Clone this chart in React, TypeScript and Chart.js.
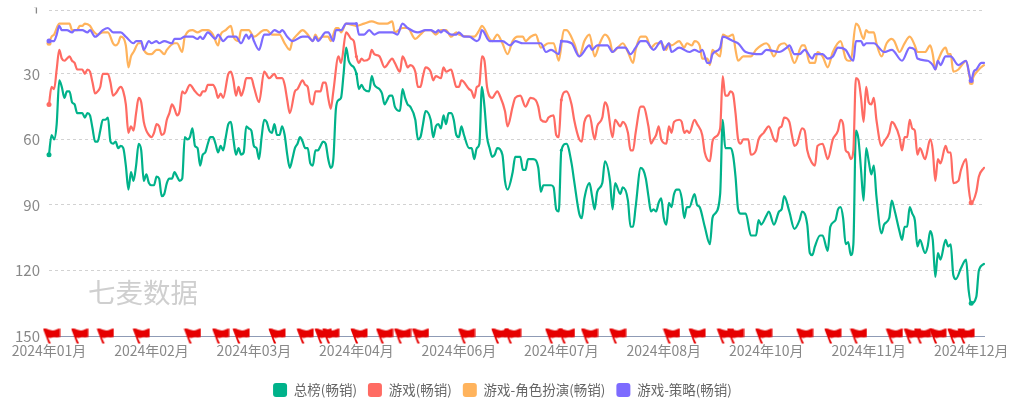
import React, { useEffect, useRef } from "react";
import { Chart, registerables } from "chart.js";

Chart.register(...registerables);

// Each pair is [day of 2024 counted from 1 January, rank]
const totalRank = [[0,67],[1,58],[2,60],[3,53],[4,33],[5,36],[6,41],[7,38],[8,38],[9,43],[10,44],[11,48],[12,48],[13,48],[14,50],[15,48],[16,49],[17,55],[18,61],[19,61],[20,56],[21,51],[22,51],[23,50],[24,61],[25,62],[26,61],[27,64],[28,63],[29,64],[30,72],[31,83],[32,75],[33,79],[34,72],[35,62],[36,65],[37,79],[38,76],[39,80],[40,81],[41,81],[42,77],[43,78],[44,86],[45,85],[46,80],[47,78],[48,78],[49,75],[50,77],[51,79],[52,78],[53,59],[54,60],[55,59],[56,55],[57,63],[58,64],[59,72],[60,67],[61,66],[62,62],[63,59],[64,59],[65,62],[66,66],[67,63],[68,65],[69,59],[70,53],[71,52],[72,60],[73,67],[74,64],[75,67],[76,66],[77,54],[78,55],[79,56],[80,63],[81,64],[82,69],[83,59],[84,51],[85,52],[86,56],[87,57],[88,53],[89,58],[90,58],[91,54],[92,58],[93,67],[94,73],[95,69],[96,64],[97,62],[98,59],[99,61],[100,64],[101,64],[102,71],[103,72],[104,65],[105,65],[106,63],[107,61],[108,62],[109,69],[110,73],[111,69],[112,46],[113,42],[114,41],[115,30],[116,18],[117,24],[118,26],[119,27],[120,30],[121,37],[122,35],[123,37],[125,38],[126,31],[127,35],[129,37],[130,39],[131,44],[132,42],[133,40],[134,40],[135,45],[137,47],[138,37],[139,41],[140,44],[141,45],[143,51],[144,60],[145,59],[146,53],[147,47],[149,51],[150,59],[151,54],[152,53],[153,55],[154,49],[155,53],[156,48],[157,48],[158,51],[159,58],[160,59],[161,54],[162,58],[164,64],[165,64],[166,69],[167,64],[168,62],[169,36],[170,45],[171,59],[172,64],[173,68],[174,67],[175,64],[177,67],[178,79],[179,83],[181,75],[182,68],[184,68],[185,74],[186,74],[187,69],[189,69],[191,73],[192,84],[193,81],[196,81],[197,82],[198,92],[199,93],[200,65],[202,62],[204,71],[205,79],[207,94],[208,96],[209,87],[211,80],[212,86],[213,92],[214,84],[216,80],[217,70],[219,79],[220,92],[221,80],[223,85],[224,82],[226,88],[227,100],[228,100],[229,91],[231,73],[232,74],[233,78],[234,86],[235,93],[236,92],[237,93],[238,89],[239,87],[240,96],[241,99],[242,89],[243,91],[244,85],[245,83],[246,83],[247,87],[248,96],[249,91],[250,91],[252,85],[253,90],[254,91],[256,100],[258,108],[259,96],[260,94],[262,85],[263,51],[264,64],[266,64],[267,67],[268,77],[269,92],[270,94],[272,94],[274,104],[276,104],[277,97],[278,99],[280,95],[281,93],[283,99],[285,93],[286,92],[287,86],[289,93],[291,101],[293,97],[294,93],[296,99],[297,112],[298,113],[299,109],[301,104],[302,104],[304,111],[305,100],[307,97],[308,92],[309,91],[310,96],[311,108],[312,107],[313,113],[314,108],[315,56],[316,60],[317,74],[318,88],[319,64],[320,70],[321,76],[322,72],[323,86],[325,103],[326,99],[328,96],[329,88],[330,92],[332,102],[333,106],[334,100],[335,100],[336,91],[337,94],[338,97],[339,109],[340,106],[342,112],[343,109],[344,102],[345,106],[346,123],[347,112],[348,115],[350,106],[351,109],[352,108],[353,122],[354,124],[356,119],[358,115],[359,129],[360,135],[362,132],[363,120],[365,117]];

const gameRank = [[0,44],[1,36],[2,37],[3,28],[4,19],[5,23],[6,24],[7,23],[8,22],[9,24],[10,25],[11,28],[12,28],[13,28],[14,30],[15,28],[16,29],[17,34],[18,39],[19,38],[20,36],[21,30],[23,30],[24,34],[25,40],[26,39],[28,36],[29,38],[30,44],[31,57],[32,54],[33,56],[34,48],[35,41],[36,43],[37,52],[38,56],[39,58],[40,59],[41,57],[42,53],[43,54],[44,58],[45,57],[46,51],[47,48],[48,44],[49,46],[50,49],[51,47],[52,38],[53,39],[55,35],[57,38],[59,40],[60,38],[61,38],[62,35],[64,35],[65,37],[66,41],[67,39],[68,41],[70,30],[71,29],[72,33],[73,40],[74,36],[75,40],[76,37],[77,32],[79,32],[80,36],[82,43],[84,29],[86,32],[88,30],[89,32],[91,32],[92,35],[93,42],[94,48],[96,38],[97,37],[99,33],[100,35],[101,36],[102,43],[103,44],[104,38],[106,38],[107,34],[108,34],[109,41],[110,46],[111,38],[113,22],[114,25],[116,11],[118,14],[119,15],[120,22],[121,25],[122,23],[123,24],[125,23],[126,19],[127,21],[129,22],[131,27],[134,23],[135,25],[137,29],[138,22],[139,24],[140,27],[141,26],[143,29],[144,36],[145,36],[146,31],[147,27],[149,29],[150,33],[151,31],[153,32],[154,27],[155,29],[157,28],[158,32],[159,36],[160,36],[161,33],[164,37],[165,38],[166,41],[167,36],[168,35],[169,22],[170,24],[171,36],[173,41],[175,38],[176,40],[178,47],[179,54],[181,45],[182,41],[184,40],[186,45],[188,41],[190,42],[191,45],[192,51],[194,52],[195,50],[197,49],[198,58],[199,59],[200,42],[202,38],[204,44],[205,51],[207,60],[208,61],[209,52],[211,49],[213,60],[214,54],[216,50],[217,43],[218,45],[220,59],[221,51],[223,54],[224,52],[226,57],[227,65],[228,65],[229,57],[231,45],[232,45],[234,54],[235,62],[236,60],[237,58],[238,54],[239,60],[241,62],[242,54],[243,57],[244,52],[246,51],[247,52],[248,57],[249,56],[250,57],[252,51],[253,53],[255,58],[256,66],[258,70],[259,61],[260,59],[262,55],[263,31],[264,40],[265,40],[266,38],[267,39],[268,48],[269,60],[270,62],[271,60],[273,60],[274,67],[276,65],[277,60],[279,57],[281,54],[283,60],[284,61],[285,55],[286,54],[287,50],[289,52],[290,58],[291,63],[292,62],[294,55],[295,56],[296,65],[298,71],[299,72],[300,63],[302,62],[304,69],[306,60],[308,56],[309,51],[310,53],[311,65],[312,66],[313,69],[314,65],[315,32],[316,33],[317,41],[318,52],[319,36],[320,43],[321,44],[322,41],[323,51],[325,63],[326,61],[328,57],[329,52],[330,53],[332,59],[333,65],[334,59],[335,59],[336,51],[337,55],[338,56],[339,67],[340,64],[342,69],[344,60],[345,65],[346,79],[347,69],[348,71],[350,63],[351,66],[352,66],[353,80],[355,79],[356,74],[358,69],[359,82],[360,89],[362,84],[363,77],[365,73]];

const rolePlayRank = [[0,16],[1,13],[2,12],[4,7],[5,7],[6,7],[8,7],[9,10],[11,10],[12,8],[13,8],[14,7],[16,8],[17,10],[19,12],[21,11],[23,11],[25,16],[26,17],[27,16],[28,13],[30,17],[31,27],[32,22],[33,20],[35,16],[36,16],[37,19],[39,21],[40,21],[42,19],[43,19],[45,21],[46,19],[49,16],[50,16],[52,20],[53,13],[56,10],[58,11],[60,10],[62,10],[64,12],[66,17],[67,12],[69,10],[71,8],[72,13],[74,15],[75,10],[78,10],[80,13],[84,10],[85,10],[87,12],[90,12],[92,16],[94,19],[95,15],[97,12],[99,10],[101,12],[103,15],[104,12],[105,14],[107,13],[109,13],[110,15],[112,9],[113,9],[114,11],[116,7],[120,8],[123,7],[126,6],[129,7],[132,7],[134,6],[135,11],[138,9],[140,9],[143,14],[145,12],[147,10],[149,10],[151,12],[153,10],[155,10],[157,13],[159,11],[160,12],[164,13],[166,13],[168,10],[169,8],[172,14],[173,15],[175,12],[177,16],[179,21],[181,15],[183,13],[185,13],[186,15],[188,13],[190,12],[192,18],[195,16],[197,16],[199,24],[201,10],[202,10],[205,16],[207,22],[209,15],[211,12],[213,22],[215,16],[217,12],[219,15],[220,20],[222,18],[224,16],[226,20],[228,25],[229,19],[231,13],[233,13],[235,18],[237,16],[239,16],[241,19],[242,16],[243,17],[246,15],[248,18],[249,16],[251,17],[252,15],[254,17],[255,23],[257,23],[258,26],[259,19],[260,20],[262,22],[263,12],[265,13],[267,12],[268,19],[269,24],[271,22],[274,22],[276,19],[278,17],[280,16],[281,17],[283,22],[285,17],[287,16],[289,19],[291,25],[294,17],[295,17],[297,25],[299,25],[300,20],[302,22],[304,27],[306,20],[309,15],[311,23],[312,24],[313,24],[315,7],[316,8],[318,14],[319,10],[320,11],[322,11],[323,16],[325,22],[327,16],[329,14],[330,15],[332,20],[334,16],[336,13],[338,17],[339,20],[342,20],[344,17],[345,21],[346,28],[347,24],[350,18],[351,21],[352,21],[353,29],[355,28],[357,25],[358,24],[360,34],[361,31],[363,28],[365,26]];

const strategyRank = [[0,15],[2,15],[3,12],[4,8],[5,10],[6,10],[7,10],[9,11],[10,10],[13,10],[15,11],[16,10],[18,13],[21,10],[23,9],[25,11],[28,11],[30,13],[33,16],[34,15],[36,15],[37,19],[39,15],[40,16],[42,15],[43,16],[45,15],[48,16],[49,14],[51,14],[53,13],[56,13],[58,14],[59,13],[60,14],[62,11],[65,14],[66,12],[68,15],[70,13],[73,13],[75,16],[77,12],[78,14],[79,12],[80,15],[82,19],[84,12],[86,12],[88,10],[90,11],[91,10],[93,13],[95,15],[99,13],[101,13],[103,15],[104,13],[105,15],[108,11],[109,11],[111,15],[112,10],[113,10],[114,10],[116,7],[118,7],[120,7],[121,12],[123,12],[125,10],[127,12],[129,11],[134,11],[136,12],[138,7],[140,9],[144,11],[147,10],[149,10],[151,11],[152,10],[153,11],[154,10],[157,12],[159,12],[160,11],[162,13],[164,13],[167,15],[168,14],[169,10],[172,15],[177,15],[180,17],[182,15],[185,16],[192,16],[194,20],[196,19],[199,21],[200,15],[204,16],[207,22],[211,17],[212,19],[214,17],[218,17],[220,20],[222,18],[225,18],[227,21],[229,18],[231,15],[233,15],[236,19],[239,15],[240,19],[242,16],[243,20],[246,18],[250,20],[252,19],[254,20],[255,19],[257,25],[258,25],[259,21],[262,18],[263,13],[267,15],[269,16],[272,20],[278,21],[280,19],[285,20],[288,18],[289,17],[291,21],[293,21],[295,19],[298,23],[299,21],[302,21],[304,23],[306,22],[308,18],[311,19],[313,23],[314,24],[315,15],[317,15],[318,17],[319,16],[320,16],[322,16],[326,20],[329,19],[333,24],[336,18],[338,19],[339,23],[343,24],[345,26],[346,28],[347,24],[348,26],[350,22],[352,22],[355,26],[358,24],[360,33],[361,29],[362,28],[364,25],[365,25]];

// Days of the version-update flags along the axis
const flagDays = [1,12,22,36,56,67,75,89,100,107,110,121,131,138,145,163,176,181,197,202,211,222,243,253,264,268,279,295,306,316,330,337,341,347,354,358];

// Days that show a small point on the lines
const endDotDays = [0,360];
const smallDotDays = [120,200];

const seriesNames = ["总榜(畅销)", "游戏(畅销)", "游戏-角色扮演(畅销)", "游戏-策略(畅销)"];
const seriesColors = ["#00b28a", "#ff6b63", "#ffb35c", "#7d6bff"];
const yearLabel = "2024";
const yTickValues = [1, 30, 60, 90, 120, 150];
const watermark = "七麦数据";
const FONT = '"Noto Sans CJK SC", "Noto Sans", sans-serif';

function dayToLabel(day: number) {
  const d = new Date(Date.UTC(2024, 0, 1 + day));
  return `${yearLabel}年${String(d.getUTCMonth() + 1).padStart(2, "0")}月`;
}

function makeFlag() {
  const c = document.createElement("canvas");
  c.width = 18;
  c.height = 17;
  const g = c.getContext("2d")!;
  g.fillStyle = "#e60000";
  g.translate(0, -0.5);
  g.beginPath();
  g.moveTo(0.5, 2);
  g.bezierCurveTo(4, 0.5, 6, 3.5, 10, 3.5);
  g.bezierCurveTo(13, 3.5, 15, 1.5, 17.5, 1.5);
  g.lineTo(17.5, 10);
  g.bezierCurveTo(14, 11, 12, 10, 10, 10.5);
  g.bezierCurveTo(8, 11, 7, 11, 5.5, 10.5);
  g.lineTo(8.3, 16.5);
  g.lineTo(6, 16.5);
  g.closePath();
  g.fill();
  return c;
}

const overlayPlugin = {
  id: "overlay",
  beforeDraw(chart: any) {
    chart.legend.left = 0;
    chart.legend.right = 1005;
  },
  beforeDatasetsDraw(chart: any) {
    const { ctx } = chart;
    ctx.save();
    ctx.font = `27.5px ${FONT}`;
    ctx.fillStyle = "#cfcfcf";
    ctx.textAlign = "left";
    ctx.textBaseline = "middle";
    ctx.fillText(watermark, 88, 293);
    ctx.restore();
  },
  afterDraw(chart: any) {
    const { ctx } = chart;
    const y = chart.scales.y.getPixelForValue(yTickValues[0]);
    ctx.save();
    ctx.beginPath();
    ctx.rect(30, y - 3, 14, 6);
    ctx.clip();
    ctx.font = `14px ${FONT}`;
    ctx.fillStyle = "#888";
    ctx.textAlign = "right";
    ctx.textBaseline = "middle";
    ctx.fillText(String(yTickValues[0]), 40, y);
    ctx.restore();
  },
};

export default function App() {
  const ref = useRef<HTMLCanvasElement>(null);
  useEffect(() => {
    const toPts = (a: number[][]) => a.map(([x, y]) => ({ x, y }));
    const line = (i: number, data: number[][]) => ({
      label: seriesNames[i],
      data: toPts(data),
      borderColor: seriesColors[i],
      backgroundColor: seriesColors[i],
      borderWidth: 2.2,
      cubicInterpolationMode: "monotone",
      pointRadius: (c: any) => (endDotDays.includes(c.raw?.x) ? 2.5 : smallDotDays.includes(c.raw?.x) ? 1.5 : 0),
      pointBorderWidth: 0,
      pointBackgroundColor: seriesColors[i],
      order: 3 - i + 1,
      clip: false,
    });
    const chart = new Chart(ref.current!, {
      type: "line",
      data: {
        datasets: [
          line(0, totalRank),
          line(1, gameRank),
          line(2, rolePlayRank),
          line(3, strategyRank),
          {
            label: "flags",
            data: flagDays.map((x) => ({ x, y: 150 })),
            showLine: false,
            pointStyle: makeFlag(),
            pointRadius: 9,
            clip: false,
            order: 0,
            borderWidth: 0,
          } as any,
        ] as any,
      },
      options: {
        animation: false,
        responsive: false,
        layout: { padding: { top: 10.5, right: 36, left: 0, bottom: -6 } },
        plugins: {
          tooltip: { enabled: false },
          legend: {
            position: "bottom",
            labels: {
              font: { family: FONT, size: 13.5 },
              color: "#666",
              boxWidth: 14,
              boxHeight: 14,
              useBorderRadius: true,
              borderRadius: 3,
              padding: 11,
              filter: (it: any) => it.text !== "flags",
              generateLabels: (ch: any) =>
                Chart.defaults.plugins.legend.labels
                  .generateLabels(ch)
                  .map((l: any) => ({ ...l, lineWidth: 0 }))
                  .sort((a: any, b: any) => a.datasetIndex - b.datasetIndex),
            },
          },
        },
        scales: {
          x: {
            type: "linear",
            min: 0,
            max: 365,
            afterFit: (s: any) => { s.height = 36; },
            grid: { display: false, drawTicks: false },
            border: { display: true, color: "#8f9bb5", width: 1 },
            ticks: {
              stepSize: 40,
              includeBounds: false,
              autoSkip: false,
              maxRotation: 0,
              padding: 6,
              color: "#888",
              font: { family: FONT, size: 14 },
              callback: (v: any) => dayToLabel(Number(v)),
            },
          },
          y: {
            type: "linear",
            reverse: true,
            min: 1,
            max: 150,
            afterFit: (s: any) => { s.width = 49; s.paddingTop = 0; s.paddingBottom = 0; },
            afterBuildTicks: (s: any) => { s.ticks = yTickValues.map((value) => ({ value })); },
            border: { display: false, dash: [3, 3] },
            grid: { color: "#d2d2d2", drawTicks: false },
            ticks: {
              padding: 9,
              color: "#888",
              font: { family: FONT, size: 15 },
              callback: (v: any) => (Number(v) === yTickValues[0] ? "" : String(v)),
            },
          },
        },
        elements: { line: { borderCapStyle: "round", borderJoinStyle: "round" } },
      } as any,
      plugins: [overlayPlugin as any],
    });
    return () => chart.destroy();
  }, []);
  return (
    <div style={{ position: "fixed", left: 0, top: 0, width: 1020, height: 401, background: "#fff" }}>
      <canvas ref={ref} width={1020} height={401} style={{ display: "block" }} />
    </div>
  );
}
